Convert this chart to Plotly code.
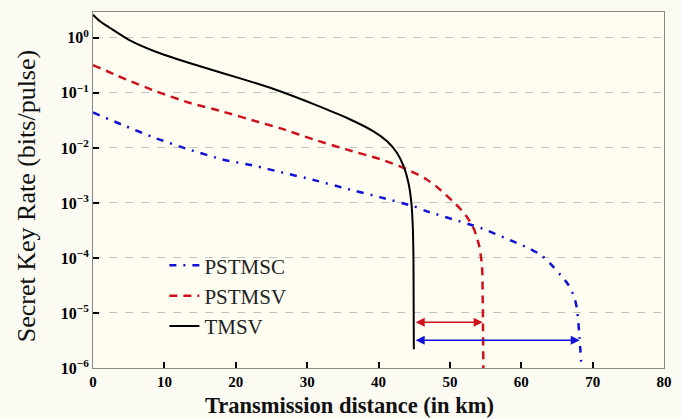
import math
import plotly.graph_objects as go

# ---- data ----
tmsv_x = [0, 0.97, 2.4, 5.1, 8.8, 13.5, 18.1, 23.2, 26.4, 31.0, 35.6, 39.3, 41.2, 42.6, 43.5, 44.2, 44.6, 44.8, 44.9, 44.95]
tmsv_y = [2.63, 2.0, 1.51, 0.91, 0.56, 0.35, 0.23, 0.145, 0.105, 0.062, 0.035, 0.020, 0.0132, 0.0081, 0.0047, 0.0023,
          0.00102, 3.8e-4, 9.5e-5, 2.2e-6]

pstmsv_x = [0, 4.2, 8.8, 13.5, 18.1, 23.2, 26.4, 31.0, 35.6, 40.3, 44.0, 46.7, 48.1, 50.9, 52.3, 53.4, 54.1, 54.5, 54.6, 54.7]
pstmsv_y = [0.32, 0.186, 0.107, 0.066, 0.046, 0.0295, 0.0224, 0.0141, 0.0093, 0.0062, 0.0041, 0.0027, 0.0020, 9.3e-4,
            5.8e-4, 3.3e-4, 1.66e-4, 7.2e-5, 1.8e-5, 8e-7]

pstmsc_x = [0, 4.2, 8.8, 13.5, 18.1, 22.7, 26.4, 31.0, 35.6, 40.3, 44.9, 46.7, 52.7, 54.6, 58.1, 59.7, 61.3, 62.9, 64.1,
            65.5, 66.5, 67.4, 67.8, 68.1, 68.5]
pstmsc_y = [0.044, 0.026, 0.015, 0.0093, 0.0062, 0.0047, 0.0036, 0.0026, 0.0018, 0.00126, 8.7e-4, 7.1e-4, 4.1e-4, 3.4e-4,
            2.2e-4, 1.8e-4, 1.45e-4, 1.1e-4, 7.8e-5, 4.9e-5, 3.4e-5, 2.0e-5, 1.2e-5, 4.6e-6, 8e-7]

# range improvement arrows: start (TMSV cut-off), end, height
arrow_start = 45.0
arrow_red_end, arrow_red_y = 54.6, 6.8e-6
arrow_blue_end, arrow_blue_y = 68.2, 3.2e-6

x_ticks = [0, 10, 20, 30, 40, 50, 60, 70, 80]
y_tick_exps = [0, -1, -2, -3, -4, -5, -6]

SERIF = "Liberation Serif, DejaVu Serif, serif"

fig = go.Figure()
fig.add_trace(go.Scatter(x=pstmsc_x, y=pstmsc_y, mode="lines", name="PSTMSC",
                         line=dict(color="#1010d8", width=2.5, dash="7px,7px,2px,7px", shape="spline", smoothing=0.6)))
fig.add_trace(go.Scatter(x=pstmsv_x, y=pstmsv_y, mode="lines", name="PSTMSV",
                         line=dict(color="#d0101c", width=2.5, dash="8px,6px", shape="spline", smoothing=0.6)))
fig.add_trace(go.Scatter(x=tmsv_x, y=tmsv_y, mode="lines", name="TMSV",
                         line=dict(color="black", width=2, shape="spline", smoothing=0.6)))

for end, yv, col in [(arrow_red_end, arrow_red_y, "#d0101c"), (arrow_blue_end, arrow_blue_y, "#1010d8")]:
    ly = math.log10(yv)
    fig.add_annotation(x=end, y=ly, ax=arrow_start, ay=ly, xref="x", yref="y", axref="x", ayref="y",
                       text="", showarrow=True, arrowhead=2, arrowside="end+start", arrowsize=1.2,
                       arrowwidth=1.5, arrowcolor=col, standoff=0, startstandoff=0)

# axis titles (placed as in the reference)
fig.add_annotation(text="<b>Transmission distance (in km)</b>", xref="paper", yref="paper",
                   x=0.449, y=-0.104, xanchor="center", yanchor="middle", showarrow=False,
                   font=dict(family=SERIF, size=22.5, color="#111"))
fig.add_annotation(text="Secret Key Rate (bits/pulse)", xref="paper", yref="paper",
                   x=-0.117, y=0.483, xanchor="center", yanchor="middle", textangle=-90, showarrow=False,
                   font=dict(family=SERIF, size=26, color="#111"))

fig.update_layout(
    width=681, height=419,
    margin=dict(l=93, r=9, t=12, b=51),
    paper_bgcolor="#fbfaf3",
    plot_bgcolor="#fffdf2",
    font=dict(family=SERIF, color="black"),
    legend=dict(x=0.125, y=0.345, xanchor="left", yanchor="top", bgcolor="rgba(0,0,0,0)",
                font=dict(family=SERIF, size=21, color="#222"), tracegroupgap=0, itemwidth=30),
    showlegend=True,
)
fig.update_xaxes(
    range=[0, 80], tickvals=x_ticks, ticktext=["<b>%d</b>" % v for v in x_ticks],
    ticks="inside", ticklen=6, tickwidth=2, tickcolor="black",
    showline=True, linecolor="#888", linewidth=1, mirror=True, showgrid=False, zeroline=False,
    tickfont=dict(family=SERIF, size=15, color="black"),
)
fig.update_yaxes(
    type="log", range=[-6, 0.47],
    tickvals=[10 ** e for e in y_tick_exps],
    ticktext=["<b>10<sup>%s</sup></b>" % (str(e).replace("-", "−")) for e in y_tick_exps],
    ticks="inside", ticklen=6, tickwidth=2, tickcolor="black",
    showline=True, linecolor="#888", linewidth=1, mirror=True,
    showgrid=True, gridcolor="#c4c4c4", gridwidth=1, griddash="8px,8px", zeroline=False,
    tickfont=dict(family=SERIF, size=16, color="black"),
)

fig.write_html("out.html")
